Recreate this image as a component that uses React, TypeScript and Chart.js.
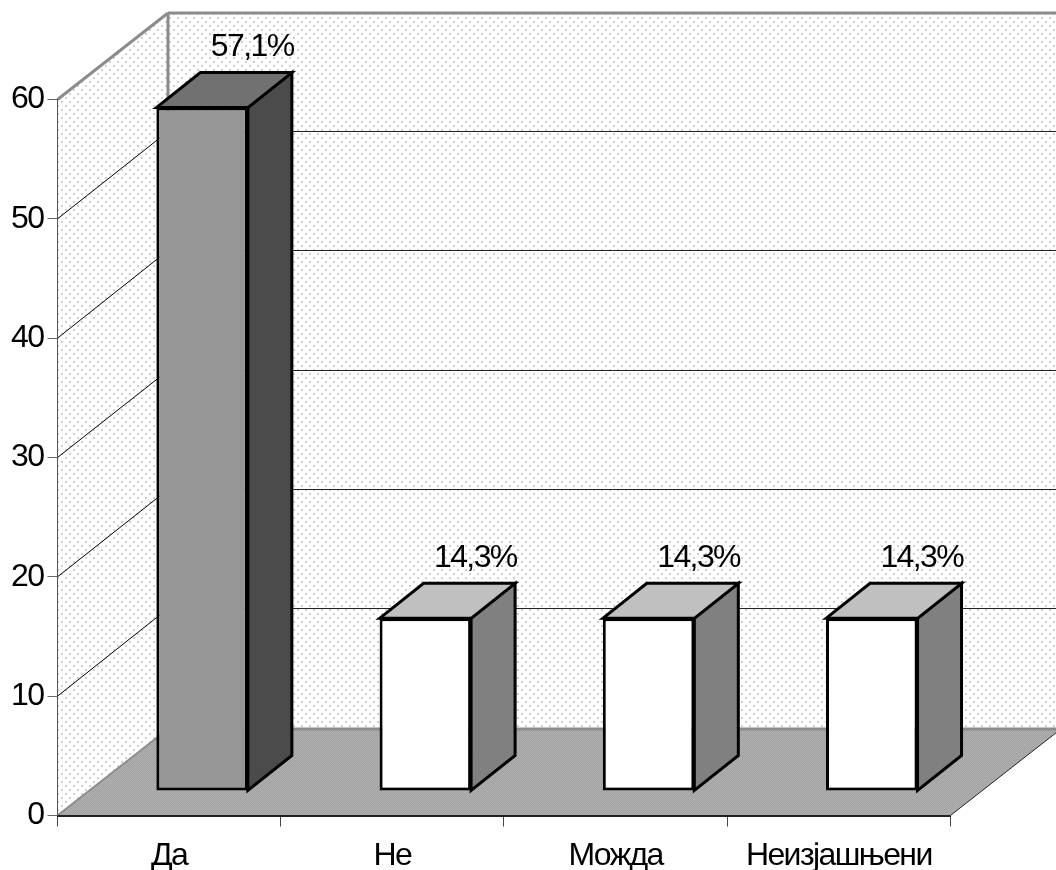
import React, { useEffect, useRef } from "react";
import { Chart, registerables } from "chart.js";

Chart.register(...registerables);

const categories = ["Да", "Не", "Можда", "Неизјашњени"];
const values = [57.1, 14.3, 14.3, 14.3];
const valueLabels = ["57,1%", "14,3%", "14,3%", "14,3%"];
const yTicks = [0, 10, 20, 30, 40, 50, 60];
const frontColors = ["#969696", "#ffffff", "#ffffff", "#ffffff"];
const sideColors = ["#4b4b4b", "#808080", "#808080", "#808080"];
const topColors = ["#717171", "#c0c0c0", "#c0c0c0", "#c0c0c0"];

const FONT = '"Liberation Sans", Arial, sans-serif';
const SPACING = "-1.6px";
const WALL_DX = 110.5;
const WALL_DY = -86.5;
const BAR_DX = 33;
const BAR_DY = -26.5;
const DEPTH_DX = 44;
const DEPTH_DY = -35;
const GRAY = "#8c8c8c";

function wallPattern(ctx: CanvasRenderingContext2D) {
  const c = document.createElement("canvas");
  c.width = 8;
  c.height = 8;
  const g = c.getContext("2d")!;
  g.fillStyle = "#ffffff";
  g.fillRect(0, 0, 8, 8);
  g.fillStyle = "#cfcfcf";
  g.fillRect(1, 1, 2, 2);
  g.fillRect(5, 5, 2, 2);
  return ctx.createPattern(c, "repeat")!;
}

function floorPattern(ctx: CanvasRenderingContext2D) {
  const c = document.createElement("canvas");
  c.width = 2;
  c.height = 2;
  const g = c.getContext("2d")!;
  g.fillStyle = "#a0a0a0";
  g.fillRect(0, 0, 2, 2);
  g.fillStyle = "#b2b2b2";
  g.fillRect(0, 0, 1, 1);
  g.fillRect(1, 1, 1, 1);
  return ctx.createPattern(c, "repeat")!;
}

function poly(ctx: CanvasRenderingContext2D, pts: number[][]) {
  ctx.beginPath();
  pts.forEach((p, i) => (i ? ctx.lineTo(p[0], p[1]) : ctx.moveTo(p[0], p[1])));
  ctx.closePath();
}

function segment(ctx: CanvasRenderingContext2D, a: number[], b: number[], color: string, w: number) {
  ctx.strokeStyle = color;
  ctx.lineWidth = w;
  ctx.beginPath();
  ctx.moveTo(a[0], a[1]);
  ctx.lineTo(b[0], b[1]);
  ctx.stroke();
}

const scene3d = {
  id: "scene3d",
  beforeDraw(chart: any) {
    const ctx = chart.ctx as CanvasRenderingContext2D;
    (ctx as any).letterSpacing = SPACING;
    const { left, right } = chart.chartArea;
    const y = chart.scales.y;
    const y0 = y.getPixelForValue(0);
    const yTop = y.getPixelForValue(60);
    const bx = left + WALL_DX;
    const farRight = right + WALL_DX;
    ctx.save();
    ctx.fillStyle = wallPattern(ctx);
    poly(ctx, [[left, y0], [left, yTop], [bx, yTop + WALL_DY], [bx, y0 + WALL_DY]]);
    ctx.fill();
    poly(ctx, [[bx, yTop + WALL_DY], [farRight, yTop + WALL_DY], [farRight, y0 + WALL_DY], [bx, y0 + WALL_DY]]);
    ctx.fill();
    ctx.fillStyle = floorPattern(ctx);
    poly(ctx, [[left, y0], [right, y0], [farRight, y0 + WALL_DY], [bx, y0 + WALL_DY]]);
    ctx.fill();
    for (const t of yTicks) {
      if (t === 0 || t === 60) continue;
      const p = y.getPixelForValue(t);
      const wy = Math.floor(p + WALL_DY) - 0.5;
      segment(ctx, [left, p], [bx, wy], "#000000", 1);
      segment(ctx, [bx, wy], [farRight, wy], "#222222", 1);
    }
    segment(ctx, [left, yTop], [bx, yTop + WALL_DY], GRAY, 3);
    segment(ctx, [bx, yTop + WALL_DY], [farRight, yTop + WALL_DY], GRAY, 3);
    segment(ctx, [bx, yTop + WALL_DY], [bx, y0 + WALL_DY], GRAY, 3);
    segment(ctx, [bx, y0 + WALL_DY], [farRight, y0 + WALL_DY], GRAY, 3);
    segment(ctx, [left, y0], [bx, y0 + WALL_DY], GRAY, 2);
    segment(ctx, [right, y0], [farRight, y0 + WALL_DY], "#222222", 1);
    ctx.restore();
  },
  beforeDatasetsDraw(chart: any) {
    const ctx = chart.ctx as CanvasRenderingContext2D;
    ctx.save();
    ctx.translate(BAR_DX, BAR_DY);
    ctx.lineJoin = "miter";
    chart.getDatasetMeta(0).data.forEach((bar: any, i: number) => {
      const half = bar.width / 2;
      const l = bar.x - half;
      const r = bar.x + half;
      const t = bar.y;
      const b = bar.base;
      ctx.lineWidth = 3;
      ctx.strokeStyle = "#000000";
      ctx.fillStyle = sideColors[i];
      poly(ctx, [[r, t], [r + DEPTH_DX, t + DEPTH_DY], [r + DEPTH_DX, b + DEPTH_DY], [r, b]]);
      ctx.fill();
      ctx.stroke();
      ctx.fillStyle = topColors[i];
      poly(ctx, [[l, t], [l + DEPTH_DX, t + DEPTH_DY], [r + DEPTH_DX, t + DEPTH_DY], [r, t]]);
      ctx.fill();
      ctx.stroke();
    });
  },
  afterDatasetsDraw(chart: any) {
    const ctx = chart.ctx as CanvasRenderingContext2D;
    ctx.restore();
    ctx.save();
    ctx.font = `32px ${FONT}`;
    ctx.fillStyle = "#000000";
    ctx.textAlign = "center";
    ctx.textBaseline = "middle";
    chart.getDatasetMeta(0).data.forEach((bar: any, i: number) => {
      ctx.fillText(valueLabels[i], bar.x + BAR_DX + 50, bar.y + BAR_DY - 60);
    });
    ctx.restore();
  },
};

export default function App() {
  const ref = useRef<HTMLCanvasElement>(null);
  useEffect(() => {
    document.body.style.margin = "0";
    const chart = new Chart(ref.current!, {
      type: "bar",
      data: {
        labels: categories,
        datasets: [
          {
            data: values,
            backgroundColor: frontColors,
            borderColor: "#000000",
            borderWidth: 3,
            borderSkipped: false,
            categoryPercentage: 0.41,
            barPercentage: 1,
            base: -0.12,
            clip: false,
          } as any,
        ],
      },
      options: {
        animation: false,
        responsive: false,
        devicePixelRatio: 1,
        layout: { padding: { top: 99.5, left: 0, right: 105.6, bottom: 0 } },
        plugins: { legend: { display: false }, tooltip: { enabled: false }, title: { display: false } },
        scales: {
          x: {
            afterFit: (s: any) => {
              s.height = 54.5;
            },
            grid: { drawOnChartArea: false, tickLength: 11, color: "#444444", lineWidth: 1 },
            border: { color: "#222222", width: 2 },
            ticks: { font: { family: FONT, size: 32 }, color: "#000000", padding: 10, maxRotation: 0, autoSkip: false },
          },
          y: {
            min: 0,
            max: 60,
            afterFit: (s: any) => {
              s.width = 57.5;
            },
            grid: { drawOnChartArea: false, tickLength: 10, color: "#666666", lineWidth: 1 },
            border: { color: "#555555", width: 1 },
            ticks: { stepSize: 10, font: { family: FONT, size: 32 }, color: "#000000", padding: 4 },
          },
        },
      },
      plugins: [scene3d],
    } as any);
    return () => chart.destroy();
  }, []);
  return <canvas ref={ref} width={1056} height={870} style={{ display: "block" }} />;
}
